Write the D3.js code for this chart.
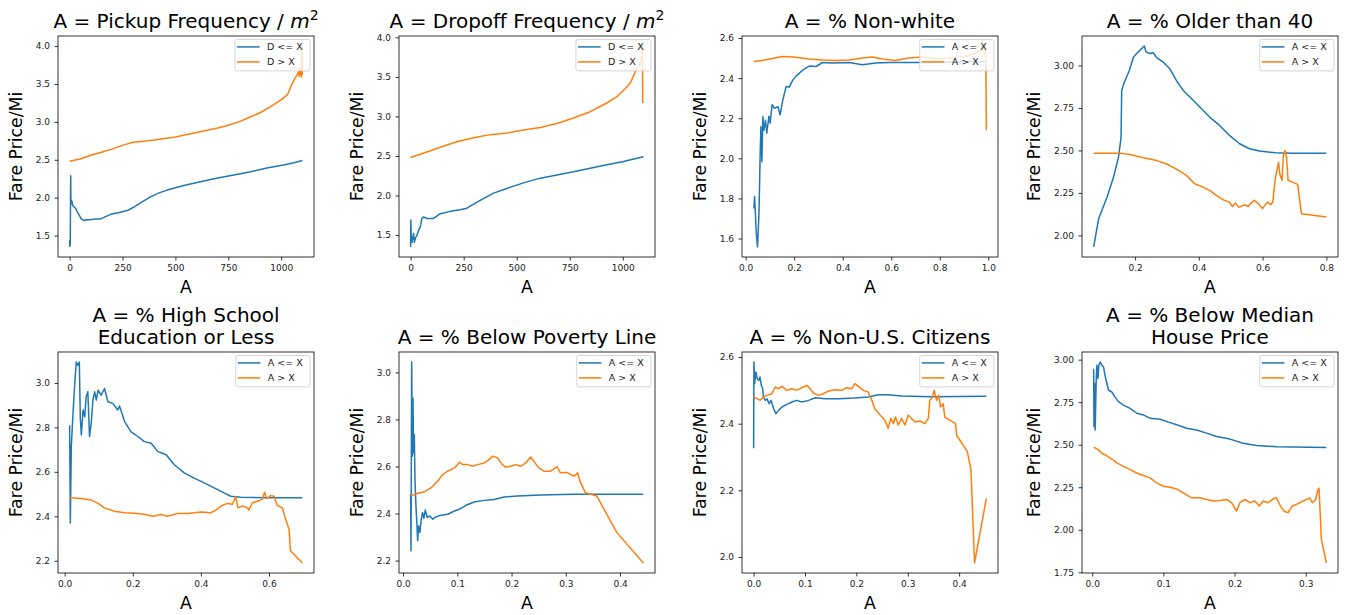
<!DOCTYPE html>
<html>
<head>
<meta charset="utf-8">
<script src="https://cdn.jsdelivr.net/npm/d3@7"></script>
<style>
  body { margin: 0; background: #fff; }
  text { font-family: "DejaVu Sans", sans-serif; }
</style>
</head>
<body>
<svg id="chart" width="1348" height="615"></svg>
<script>
// fare price per mile, split at threshold X of each attribute A
// each series is [A, fare] pairs

var pickupLe = [[0,1.35],[1,1.44],[2,1.37],[3,1.42],[4,1.93],[5,2.29],[6,1.95],[8,1.92],[10,1.96],[14,1.90],[20,1.88],[28,1.86],[35,1.82],[45,1.77],[55,1.72],[68,1.70],[80,1.71],[99,1.71],[120,1.72],[146,1.72],[170,1.75],[193,1.78],[230,1.80],[272,1.83],[300,1.87],[335,1.93],[382,2.01],[420,2.06],[461,2.10],[540,2.16],[618,2.21],[700,2.26],[775,2.30],[850,2.34],[932,2.39],[1011,2.43],[1060,2.46],[1100,2.49]];
var pickupGt = [[0,2.48],[50,2.51],[100,2.56],[150,2.60],[200,2.64],[250,2.69],[300,2.73],[350,2.745],[400,2.76],[450,2.78],[500,2.80],[550,2.83],[600,2.86],[650,2.89],[700,2.92],[750,2.955],[800,3.00],[850,3.06],[900,3.12],[950,3.20],[1000,3.29],[1030,3.36],[1045,3.46],[1060,3.55],[1075,3.62],[1082,3.66],[1085,3.60],[1088,3.70],[1091,3.62],[1094,3.76],[1096,3.59],[1098,4.00],[1100,3.62]];

var dropoffLe = [[0,1.35],[1,1.69],[3,1.45],[6,1.41],[10,1.47],[14,1.52],[17,1.41],[24,1.47],[30,1.50],[38,1.56],[46,1.61],[53,1.71],[61,1.73],[77,1.71],[108,1.71],[140,1.77],[187,1.80],[234,1.82],[265,1.84],[328,1.94],[391,2.03],[454,2.09],[532,2.16],[611,2.22],[768,2.30],[925,2.39],[1003,2.43],[1097,2.49]];
var dropoffGt = [[0,2.48],[77,2.55],[140,2.61],[218,2.68],[297,2.73],[375,2.77],[454,2.79],[532,2.83],[611,2.86],[689,2.91],[768,2.98],[846,3.06],[925,3.17],[972,3.25],[1011,3.35],[1035,3.42],[1050,3.51],[1066,3.61],[1079,3.65],[1089,3.72],[1093,3.89],[1094,3.19],[1097,3.17]];

var nonwhiteLe = [[0.034,1.75],[0.037,1.81],[0.044,1.625],[0.049,1.558],[0.055,1.725],[0.060,2.025],[0.063,2.158],[0.067,1.983],[0.071,2.208],[0.075,2.14],[0.082,2.19],[0.087,2.125],[0.096,2.21],[0.101,2.175],[0.109,2.267],[0.119,2.25],[0.133,2.258],[0.142,2.217],[0.153,2.29],[0.167,2.358],[0.180,2.355],[0.194,2.39],[0.208,2.41],[0.235,2.44],[0.262,2.46],[0.290,2.458],[0.317,2.478],[0.358,2.475],[0.426,2.478],[0.481,2.467],[0.536,2.475],[0.590,2.478],[0.699,2.478],[0.836,2.48],[0.989,2.483]];
var nonwhiteGt = [[0.033,2.483],[0.08,2.49],[0.12,2.50],[0.153,2.508],[0.194,2.505],[0.262,2.495],[0.317,2.49],[0.37,2.488],[0.426,2.49],[0.481,2.50],[0.522,2.505],[0.563,2.495],[0.617,2.488],[0.672,2.50],[0.727,2.505],[0.781,2.498],[0.836,2.50],[0.904,2.508],[0.945,2.525],[0.973,2.54],[0.986,2.56],[0.990,2.50],[0.992,2.14]];

var olderLe = [[0.07,1.932],[0.086,2.10],[0.112,2.225],[0.132,2.34],[0.148,2.46],[0.156,2.575],[0.158,2.853],[0.164,2.89],[0.174,2.935],[0.182,2.97],[0.195,3.05],[0.205,3.07],[0.216,3.09],[0.224,3.105],[0.229,3.114],[0.234,3.08],[0.247,3.07],[0.257,3.075],[0.268,3.045],[0.278,3.033],[0.288,3.02],[0.309,2.98],[0.33,2.91],[0.351,2.853],[0.372,2.814],[0.403,2.755],[0.434,2.696],[0.465,2.647],[0.496,2.588],[0.528,2.539],[0.559,2.51],[0.59,2.496],[0.642,2.486],[0.694,2.484],[0.8,2.484]];
var olderGt = [[0.07,2.484],[0.153,2.484],[0.184,2.476],[0.226,2.457],[0.268,2.44],[0.299,2.42],[0.33,2.39],[0.361,2.353],[0.387,2.304],[0.413,2.284],[0.434,2.265],[0.455,2.235],[0.476,2.21],[0.496,2.196],[0.505,2.17],[0.515,2.19],[0.525,2.165],[0.538,2.176],[0.545,2.18],[0.555,2.17],[0.564,2.19],[0.574,2.206],[0.585,2.19],[0.6,2.157],[0.608,2.18],[0.616,2.196],[0.625,2.18],[0.632,2.196],[0.639,2.324],[0.645,2.382],[0.65,2.43],[0.654,2.36],[0.661,2.324],[0.665,2.47],[0.67,2.5],[0.675,2.46],[0.68,2.324],[0.71,2.30],[0.722,2.127],[0.8,2.108]];

var schoolLe = [[0.0146,2.81],[0.0166,2.37],[0.0195,2.714],[0.024,2.848],[0.029,2.982],[0.034,3.094],[0.039,3.079],[0.043,3.094],[0.046,2.84],[0.049,2.766],[0.054,2.878],[0.059,2.848],[0.063,2.937],[0.068,2.96],[0.073,2.759],[0.078,2.818],[0.083,2.923],[0.088,2.96],[0.093,2.923],[0.098,2.967],[0.107,2.945],[0.117,2.975],[0.127,2.915],[0.141,2.908],[0.156,2.878],[0.161,2.896],[0.176,2.826],[0.195,2.78],[0.215,2.759],[0.234,2.736],[0.254,2.729],[0.273,2.692],[0.298,2.677],[0.322,2.632],[0.351,2.595],[0.38,2.572],[0.41,2.55],[0.439,2.528],[0.468,2.505],[0.488,2.49],[0.517,2.486],[0.595,2.483],[0.698,2.483]];
var schoolGt = [[0.0146,2.483],[0.049,2.48],[0.078,2.473],[0.098,2.458],[0.117,2.438],[0.146,2.423],[0.176,2.416],[0.205,2.414],[0.234,2.409],[0.259,2.40],[0.283,2.408],[0.302,2.40],[0.332,2.413],[0.361,2.413],[0.40,2.419],[0.429,2.416],[0.444,2.428],[0.459,2.446],[0.478,2.458],[0.493,2.454],[0.502,2.488],[0.509,2.438],[0.522,2.446],[0.537,2.438],[0.541,2.428],[0.551,2.46],[0.566,2.468],[0.58,2.476],[0.587,2.508],[0.593,2.48],[0.605,2.493],[0.615,2.49],[0.624,2.449],[0.639,2.438],[0.649,2.386],[0.659,2.342],[0.663,2.245],[0.698,2.19]];

var povertyLe = [[0.014,2.48],[0.0147,2.242],[0.0159,3.044],[0.0171,2.644],[0.0183,2.89],[0.0195,2.658],[0.0208,2.735],[0.022,2.545],[0.0238,2.432],[0.0256,2.355],[0.0269,2.285],[0.0287,2.348],[0.0311,2.32],[0.0336,2.376],[0.036,2.404],[0.0385,2.38],[0.0409,2.415],[0.0446,2.383],[0.0489,2.39],[0.055,2.376],[0.061,2.387],[0.0702,2.393],[0.0824,2.397],[0.0947,2.411],[0.1038,2.418],[0.116,2.435],[0.1313,2.449],[0.1496,2.456],[0.168,2.46],[0.1863,2.47],[0.2107,2.475],[0.2534,2.479],[0.3145,2.482],[0.4427,2.482]];
var povertyGt = [[0.014,2.475],[0.0275,2.486],[0.0397,2.493],[0.052,2.51],[0.064,2.538],[0.073,2.566],[0.082,2.58],[0.095,2.594],[0.104,2.618],[0.11,2.608],[0.119,2.608],[0.128,2.601],[0.137,2.608],[0.15,2.615],[0.159,2.63],[0.165,2.644],[0.174,2.637],[0.183,2.608],[0.189,2.597],[0.198,2.601],[0.208,2.608],[0.217,2.601],[0.226,2.615],[0.235,2.64],[0.241,2.623],[0.25,2.594],[0.26,2.58],[0.272,2.58],[0.284,2.599],[0.29,2.573],[0.302,2.575],[0.315,2.559],[0.322,2.573],[0.326,2.538],[0.336,2.489],[0.357,2.475],[0.394,2.32],[0.443,2.19]];

var citizenLe = [[0,2.326],[0.0006,2.585],[0.002,2.52],[0.0045,2.555],[0.007,2.535],[0.0097,2.53],[0.0123,2.54],[0.015,2.515],[0.0175,2.505],[0.019,2.48],[0.0227,2.47],[0.026,2.475],[0.0304,2.46],[0.034,2.47],[0.039,2.445],[0.0434,2.43],[0.0485,2.44],[0.055,2.45],[0.0647,2.458],[0.0744,2.465],[0.084,2.47],[0.0939,2.465],[0.107,2.47],[0.12,2.478],[0.139,2.475],[0.165,2.475],[0.197,2.477],[0.223,2.48],[0.243,2.487],[0.262,2.487],[0.288,2.483],[0.346,2.481],[0.453,2.482]];
var citizenGt = [[0,2.48],[0.0065,2.475],[0.013,2.47],[0.019,2.48],[0.026,2.485],[0.0356,2.49],[0.042,2.51],[0.0485,2.505],[0.055,2.512],[0.0647,2.50],[0.0744,2.505],[0.084,2.50],[0.094,2.508],[0.1036,2.515],[0.11,2.505],[0.1165,2.492],[0.126,2.485],[0.136,2.49],[0.1456,2.498],[0.1586,2.502],[0.1715,2.50],[0.181,2.508],[0.191,2.505],[0.197,2.52],[0.204,2.512],[0.2136,2.50],[0.223,2.495],[0.23,2.47],[0.236,2.445],[0.246,2.426],[0.2557,2.41],[0.262,2.386],[0.267,2.416],[0.272,2.40],[0.276,2.42],[0.2816,2.396],[0.288,2.416],[0.2945,2.396],[0.301,2.426],[0.307,2.416],[0.314,2.405],[0.3236,2.408],[0.3333,2.40],[0.34,2.416],[0.343,2.47],[0.3476,2.48],[0.3515,2.50],[0.356,2.47],[0.3605,2.485],[0.364,2.45],[0.369,2.46],[0.372,2.42],[0.393,2.40],[0.395,2.366],[0.416,2.316],[0.423,2.261],[0.43,1.982],[0.453,2.176]];

var houseLe = [[0.002,2.947],[0.0025,2.607],[0.0033,2.86],[0.0042,2.587],[0.0056,2.88],[0.0065,2.967],[0.008,2.889],[0.0093,2.967],[0.0112,2.986],[0.0136,2.967],[0.0159,2.957],[0.018,2.908],[0.0206,2.86],[0.0229,2.82],[0.0276,2.81],[0.0322,2.78],[0.0369,2.753],[0.0439,2.733],[0.0533,2.714],[0.0626,2.685],[0.072,2.675],[0.0813,2.655],[0.0953,2.65],[0.1093,2.63],[0.1187,2.617],[0.1327,2.597],[0.1467,2.587],[0.1607,2.568],[0.1748,2.548],[0.1935,2.533],[0.2121,2.509],[0.2308,2.496],[0.2589,2.488],[0.329,2.484]];
var houseGt = [[0.002,2.486],[0.0075,2.474],[0.0136,2.45],[0.0206,2.435],[0.0276,2.416],[0.0346,2.393],[0.044,2.373],[0.0533,2.354],[0.0626,2.334],[0.072,2.319],[0.0813,2.305],[0.0907,2.276],[0.1,2.256],[0.1093,2.25],[0.1187,2.24],[0.128,2.217],[0.1397,2.188],[0.1514,2.188],[0.1607,2.178],[0.17,2.169],[0.1794,2.172],[0.1888,2.178],[0.1958,2.159],[0.2028,2.11],[0.2075,2.159],[0.2145,2.178],[0.2215,2.159],[0.2285,2.169],[0.2346,2.14],[0.2402,2.169],[0.2472,2.159],[0.2542,2.182],[0.2589,2.188],[0.2645,2.14],[0.2692,2.11],[0.2752,2.10],[0.2813,2.14],[0.2869,2.149],[0.2963,2.169],[0.3056,2.188],[0.3093,2.159],[0.314,2.178],[0.3173,2.237],[0.3187,2.245],[0.322,1.945],[0.329,1.805]];

// tick values
var freqXTicks = [0, 250, 500, 750, 1000];
var freqYTicks = [1.5, 2.0, 2.5, 3.0, 3.5, 4.0];
var nonwhiteXTicks = [0.0, 0.2, 0.4, 0.6, 0.8, 1.0];
var nonwhiteYTicks = [1.6, 1.8, 2.0, 2.2, 2.4, 2.6];
var olderXTicks = [0.2, 0.4, 0.6, 0.8];
var olderYTicks = [2.00, 2.25, 2.50, 2.75, 3.00];
var schoolXTicks = [0.0, 0.2, 0.4, 0.6];
var schoolYTicks = [2.2, 2.4, 2.6, 2.8, 3.0];
var povertyXTicks = [0.0, 0.1, 0.2, 0.3, 0.4];
var povertyYTicks = [2.2, 2.4, 2.6, 2.8, 3.0];
var citizenXTicks = [0.0, 0.1, 0.2, 0.3, 0.4];
var citizenYTicks = [2.0, 2.2, 2.4, 2.6];
var houseXTicks = [0.0, 0.1, 0.2, 0.3];
var houseYTicks = [1.75, 2.00, 2.25, 2.50, 2.75, 3.00];

var panels = [
  { title: ["A = Pickup Frequency / m²"], le: pickupLe, gt: pickupGt, sym: "D", xt: freqXTicks, xf: "d", yt: freqYTicks, yf: ".1f" },
  { title: ["A = Dropoff Frequency / m²"], le: dropoffLe, gt: dropoffGt, sym: "D", xt: freqXTicks, xf: "d", yt: freqYTicks, yf: ".1f" },
  { title: ["A = % Non-white"], le: nonwhiteLe, gt: nonwhiteGt, sym: "A", xt: nonwhiteXTicks, xf: ".1f", yt: nonwhiteYTicks, yf: ".1f" },
  { title: ["A = % Older than 40"], le: olderLe, gt: olderGt, sym: "A", xt: olderXTicks, xf: ".1f", yt: olderYTicks, yf: ".2f" },
  { title: ["A = % High School", "Education or Less"], le: schoolLe, gt: schoolGt, sym: "A", xt: schoolXTicks, xf: ".1f", yt: schoolYTicks, yf: ".1f" },
  { title: ["A = % Below Poverty Line"], le: povertyLe, gt: povertyGt, sym: "A", xt: povertyXTicks, xf: ".1f", yt: povertyYTicks, yf: ".1f" },
  { title: ["A = % Non-U.S. Citizens"], le: citizenLe, gt: citizenGt, sym: "A", xt: citizenXTicks, xf: ".1f", yt: citizenYTicks, yf: ".1f" },
  { title: ["A = % Below Median", "House Price"], le: houseLe, gt: houseGt, sym: "A", xt: houseXTicks, xf: ".1f", yt: houseYTicks, yf: ".2f" }
];

// layout
var colLeft = [58, 399, 742, 1082];
var rowTop = [36, 352];
var plotW = 256, plotH = 221;
var blue = "#1f77b4", orange = "#ff7f0e";

var svg = d3.select("#chart");

function padded(ext) {
  var r = ext[1] - ext[0];
  return [ext[0] - 0.05 * r, ext[1] + 0.05 * r];
}

panels.forEach(function(p, i) {
  var left = colLeft[i % 4], top = rowTop[Math.floor(i / 4)];
  var all = p.le.concat(p.gt);

  var x = d3.scaleLinear()
    .domain(padded(d3.extent(all, function(d) { return d[0]; })))
    .range([0, plotW]);
  var y = d3.scaleLinear()
    .domain(padded(d3.extent(all, function(d) { return d[1]; })))
    .range([plotH, 0]);

  var g = svg.append("g").attr("transform", "translate(" + left + "," + top + ")");

  var line = d3.line()
    .x(function(d) { return x(d[0]); })
    .y(function(d) { return y(d[1]); });

  [[p.le, blue], [p.gt, orange]].forEach(function(s) {
    g.append("path")
      .datum(s[0])
      .attr("d", line)
      .attr("fill", "none")
      .attr("stroke", s[1])
      .attr("stroke-width", 1.5)
      .attr("stroke-linejoin", "round");
  });

  // axes
  var xAxis = g.append("g")
    .attr("transform", "translate(0," + plotH + ")")
    .call(d3.axisBottom(x).tickValues(p.xt).tickFormat(d3.format(p.xf)).tickSize(3.5).tickPadding(4));
  var yAxis = g.append("g")
    .call(d3.axisLeft(y).tickValues(p.yt).tickFormat(d3.format(p.yf)).tickSize(3.5).tickPadding(4.5));

  [xAxis, yAxis].forEach(function(a) {
    a.select(".domain").remove();
    a.selectAll(".tick line").attr("stroke", "#000").attr("stroke-width", 0.8);
    a.selectAll(".tick text")
      .attr("fill", "#222")
      .style("font-family", "DejaVu Sans")
      .style("font-size", "9px");
  });

  // spines
  g.append("rect")
    .attr("width", plotW).attr("height", plotH)
    .attr("fill", "none").attr("stroke", "#000").attr("stroke-width", 0.8);

  // title
  p.title.forEach(function(t, k) {
    var tt = g.append("text")
      .attr("x", plotW / 2)
      .attr("y", -8 - (p.title.length - 1 - k) * 22)
      .attr("text-anchor", "middle")
      .style("font-size", "20px")
      .attr("fill", "#000");
    if (t.indexOf("m²") >= 0) {
      tt.append("tspan").text(t.replace("m²", ""));
      tt.append("tspan").style("font-style", "italic").text("m");
      tt.append("tspan").attr("dy", -8).style("font-size", "14px").text("2");
    } else {
      tt.text(t);
    }
  });

  // axis labels
  g.append("text")
    .attr("x", plotW / 2).attr("y", plotH + 36)
    .attr("text-anchor", "middle")
    .style("font-size", "17.3px")
    .text("A");

  var yw = yAxis.node().getBBox().width;
  g.append("text")
    .attr("transform", "translate(" + (-yw - 14) + "," + (plotH / 2) + ") rotate(-90)")
    .attr("text-anchor", "middle")
    .style("font-size", "17.3px")
    .text("Fare Price/Mi");

  // legend
  var labels = [p.sym + " <= X", p.sym + " > X"];
  var lg = g.append("g");
  var box = lg.append("rect")
    .attr("rx", 2).attr("ry", 2)
    .attr("fill", "#fff").attr("fill-opacity", 0.8)
    .attr("stroke", "#ccc").attr("stroke-width", 0.8);
  var tw = 0;
  labels.forEach(function(l, k) {
    var cy = 7.4 + k * 15;
    lg.append("line")
      .attr("x1", 2).attr("x2", 24.7)
      .attr("y1", cy).attr("y2", cy)
      .attr("stroke", k === 0 ? blue : orange)
      .attr("stroke-width", 1.5);
    var t = lg.append("text")
      .attr("x", 32).attr("y", cy).attr("dy", "0.35em")
      .style("font-size", "9.5px")
      .attr("fill", "#222")
      .text(l);
    tw = Math.max(tw, t.node().getComputedTextLength());
  });
  var bw = 32 + tw + 7.3;
  box.attr("width", bw).attr("height", 31.4);
  lg.attr("transform", "translate(" + (plotW - 4 - bw) + ",3.5)");
});
</script>
</body>
</html>
